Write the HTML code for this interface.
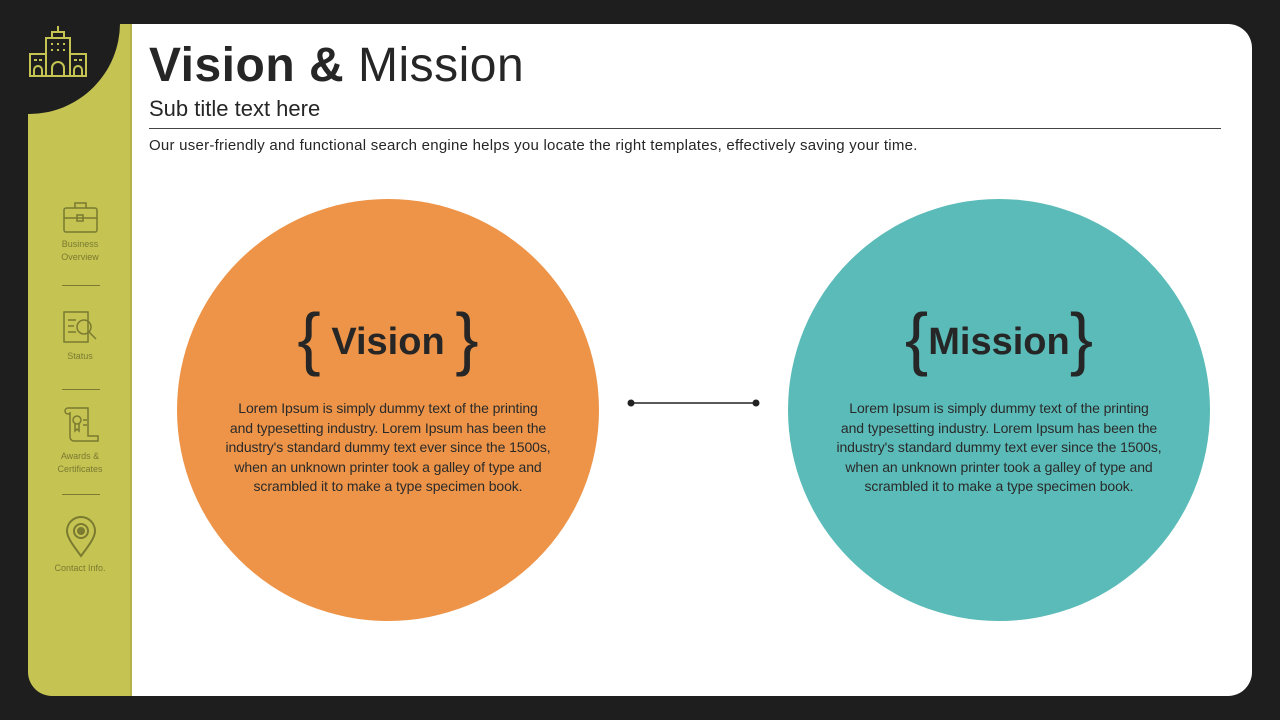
<!DOCTYPE html>
<html><head><meta charset="utf-8"><style>
*{margin:0;padding:0;box-sizing:border-box}
body{width:1280px;height:720px;background:#1e1e1e;position:relative;overflow:hidden;font-family:"Liberation Sans",sans-serif}
.side{position:absolute;left:28px;top:24px;width:104px;height:672px;background:#c5c453;border-radius:0 0 0 24px;border-right:2px solid #b4b34a;overflow:hidden}
.corner{position:absolute;left:-90px;top:-92px;width:182px;height:182px;border-radius:50%;background:#1e1e1e}
.panel{position:absolute;left:132px;top:24px;width:1120px;height:672px;background:#fff;border-radius:0 24px 24px 0}
.abs{position:absolute}
.nav{position:absolute;left:28px;width:104px;text-align:center;color:#7a7a30;font-size:9px;line-height:13px}
.sep{position:absolute;left:62px;width:38px;height:1px;background:#7a7a30}
.circle{position:absolute;border-radius:50%;width:422px;height:422px;top:199px}
.ct{position:absolute;width:400px;left:11px;top:200px;text-align:center;font-size:14px;line-height:19.5px;color:#2a2a2a;letter-spacing:-0.1px}
.head{position:absolute;width:100%;top:91px;text-align:center;font-weight:bold;font-size:38px;color:#262626}
.br{font-weight:normal;font-size:70px;position:relative;top:8px}
</style></head><body>
<div class="side"><div class="corner"></div></div>
<svg class="abs" style="left:26px;top:24px" width="64" height="56" viewBox="0 0 64 56" fill="none" stroke="#c5c453" stroke-width="2">
<path d="M32 2v6M26 8h12v6H26zM20 14h24v38H20zM4 30h16v22H4zM44 30h16v22H44z"/>
<path d="M26 52v-8a6 6 0 0 1 12 0v8M8 52v-6a4 4 0 0 1 8 0v6M48 52v-6a4 4 0 0 1 8 0v6"/>
<path d="M25 20h2M31 20h2M37 20h2M25 26h2M31 26h2M37 26h2M8 36h3M13 36h3M48 36h3M53 36h3"/>
</svg>
<div class="panel"></div>
<div class="abs" style="left:149px;top:38px;font-size:48px;color:#262626;line-height:56px;letter-spacing:0.5px"><b>Vision &amp;</b> Mission</div>
<div class="abs" style="left:149px;top:96px;font-size:22px;color:#262626">Sub title text here</div>
<div class="abs" style="left:149px;top:128px;width:1072px;height:1px;background:#444"></div>
<div class="abs" style="left:149px;top:137px;font-size:15px;color:#262626;letter-spacing:0.25px">Our user-friendly and functional search engine helps you locate the right templates, effectively saving your time.</div>

<svg class="abs" style="left:62px;top:200px" width="38" height="34" fill="none" stroke="#7a7a30" stroke-width="1.5"><rect x="2" y="8" width="33" height="24" rx="2"/><path d="M13 8V3h11v5M2 18h33"/><rect x="15" y="15" width="6" height="6"/></svg>
<div class="nav" style="top:238px">Business<br>Overview</div>
<div class="sep" style="top:285px"></div>
<svg class="abs" style="left:62px;top:310px" width="38" height="36" fill="none" stroke="#7a7a30" stroke-width="1.5"><rect x="2" y="2" width="24" height="30"/><circle cx="22" cy="17" r="7"/><path d="M27 22l7 7M6 10h8M6 16h6M6 22h8"/></svg>
<div class="nav" style="top:350px">Status</div>
<div class="sep" style="top:389px"></div>
<svg class="abs" style="left:62px;top:406px" width="38" height="36" fill="none" stroke="#7a7a30" stroke-width="1.5"><path d="M6 2h20v28h10v5H12a4 4 0 0 1-4-4V6M6 2a3 3 0 0 0 0 6h2"/><circle cx="15" cy="14" r="4"/><path d="M13 18v7l2-2 2 2v-7M21 14h4M21 19h4"/></svg>
<div class="nav" style="top:450px">Awards &amp;<br>Certificates</div>
<div class="sep" style="top:494px"></div>
<svg class="abs" style="left:64px;top:516px" width="34" height="42" fill="none" stroke="#7a7a30" stroke-width="2"><path d="M17 40C8 28 3 21 3 15a14 14 0 0 1 28 0c0 6-5 13-14 25z"/><circle cx="17" cy="15" r="7"/><circle cx="17" cy="15" r="3" fill="#7a7a30"/></svg>
<div class="nav" style="top:562px">Contact Info.</div>

<div class="circle" style="left:177px;background:#ed9448">
<div class="head"><span class="br">{</span> Vision <span class="br">}</span></div>
<div class="ct">Lorem Ipsum is simply dummy text of the printing<br>and typesetting industry. Lorem Ipsum has been the<br>industry's standard dummy text ever since the 1500s,<br>when an unknown printer took a galley of type and<br>scrambled it to make a type specimen book.</div>
</div>
<div class="circle" style="left:788px;background:#5abbb8">
<div class="head"><span class="br">{</span>Mission<span class="br">}</span></div>
<div class="ct">Lorem Ipsum is simply dummy text of the printing<br>and typesetting industry. Lorem Ipsum has been the<br>industry's standard dummy text ever since the 1500s,<br>when an unknown printer took a galley of type and<br>scrambled it to make a type specimen book.</div>
</div>
<svg class="abs" style="left:624px;top:396px" width="140" height="14"><line x1="7" y1="7" x2="132" y2="7" stroke="#222" stroke-width="1.5"/><circle cx="7" cy="7" r="3.5" fill="#222"/><circle cx="132" cy="7" r="3.5" fill="#222"/></svg>
</body></html>
